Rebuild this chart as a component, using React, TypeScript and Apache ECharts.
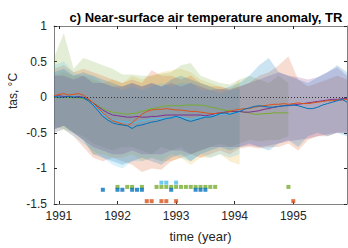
import React, { useEffect, useRef } from "react";
import * as echarts from "echarts";

// ---- data ----
const X_START = 1991 - 1 / 12; // first monthly sample (Dec 1990)
const X_END = 1996 - 1 / 12; // last monthly sample (Nov 1995)
const YEAR_TICKS = [1991, 1992, 1993, 1994, 1995];

const TITLE = "c) Near-surface air temperature anomaly, TR";
const Y_NAME = "tas, °C";
const X_NAME = "time (year)";

// monthly ensemble-mean anomalies (index i -> X_START + i/12)
const BLUE = [0.01, 0.0, 0.0, 0.01, 0.0, 0.0, -0.01, -0.05, -0.11, -0.19, -0.27, -0.32, -0.36, -0.38, -0.39, -0.4, -0.44, -0.4, -0.39, -0.37, -0.35, -0.34, -0.32, -0.3, -0.29, -0.27, -0.29, -0.32, -0.34, -0.32, -0.3, -0.28, -0.28, -0.26, -0.23, -0.22, -0.24, -0.22, -0.2, -0.17, -0.15, -0.13, -0.12, -0.13, -0.14, -0.14, -0.13, -0.12, -0.12, -0.11, -0.12, -0.14, -0.16, -0.16, -0.14, -0.11, -0.09, -0.07, -0.05, -0.03, -0.07];
const ORANGE = [0.02, 0.04, 0.05, 0.03, 0.04, 0.05, 0.03, -0.02, -0.08, -0.15, -0.22, -0.28, -0.33, -0.35, -0.38, -0.4, -0.36, -0.3, -0.24, -0.2, -0.18, -0.17, -0.17, -0.16, -0.17, -0.18, -0.18, -0.19, -0.2, -0.2, -0.21, -0.22, -0.23, -0.23, -0.22, -0.22, -0.2, -0.18, -0.17, -0.16, -0.16, -0.14, -0.13, -0.12, -0.11, -0.1, -0.1, -0.09, -0.1, -0.09, -0.08, -0.09, -0.09, -0.08, -0.07, -0.06, -0.05, -0.05, -0.04, -0.04, -0.03];
const PURPLE = [0.01, 0.02, 0.01, 0.01, 0.0, 0.01, 0.0, -0.03, -0.08, -0.13, -0.18, -0.22, -0.25, -0.26, -0.27, -0.28, -0.28, -0.27, -0.28, -0.28, -0.27, -0.27, -0.26, -0.25, -0.25, -0.25, -0.25, -0.25, -0.25, -0.25, -0.25, -0.26, -0.25, -0.23, -0.22, -0.21, -0.2, -0.2, -0.2, -0.21, -0.21, -0.2, -0.19, -0.17, -0.16, -0.14, -0.13, -0.12, -0.11, -0.11, -0.1, -0.09, -0.08, -0.07, -0.06, -0.05, -0.04, -0.03, -0.03, -0.02, -0.02];
const GREEN = [0.0, -0.01, 0.0, -0.01, -0.01, -0.01, -0.02, -0.04, -0.08, -0.12, -0.16, -0.19, -0.21, -0.22, -0.23, -0.24, -0.23, -0.22, -0.2, -0.18, -0.16, -0.15, -0.13, -0.12, -0.12, -0.12, -0.12, -0.11, -0.11, -0.11, -0.11, -0.12, -0.14, -0.15, -0.17, -0.18, -0.19, -0.2, -0.2, -0.21, -0.22, -0.24, -0.24, -0.23, -0.23, -0.22, -0.22, -0.22, -0.22];
const LIGHTBLUE = [0.0, 0.01, 0.0, 0.0, 0.01, 0.0, -0.01, -0.04, -0.1, -0.17, -0.24, -0.29, -0.32, -0.33, -0.34, -0.35, -0.36, -0.35, -0.33, -0.32, -0.31, -0.3, -0.3, -0.3, -0.29, -0.28, -0.28, -0.3, -0.31, -0.3, -0.28, -0.27, -0.26, -0.25, -0.24, -0.24, -0.23, -0.22, -0.21];

// ensemble spread bands, bimonthly (index k -> X_START + k/6)
const BLUE_UP = [0.35, 0.4, 0.3, 0.35, 0.3, 0.25, 0.2, 0.15, 0.2, 0.15, 0.2, 0.15, 0.25, 0.3, 0.25, 0.2, 0.15, 0.1, 0.15, 0.2, 0.3, 0.45, 0.55, 0.35, 0.3, 0.25, 0.2, 0.28, 0.35, 0.45, 0.35];
const BLUE_LO = [-0.45, -0.4, -0.5, -0.6, -0.8, -0.85, -0.9, -0.95, -0.9, -0.85, -0.9, -0.95, -0.85, -0.8, -0.9, -0.8, -0.75, -0.7, -0.75, -0.7, -0.65, -0.7, -0.75, -0.65, -0.6, -0.7, -0.55, -0.5, -0.55, -0.5, -0.55];
const ORANGE_UP = [0.4, 0.45, 0.35, 0.4, 0.35, 0.3, 0.25, 0.2, 0.25, 0.2, 0.38, 0.3, 0.3, 0.25, 0.3, 0.2, 0.15, 0.15, 0.12, 0.15, 0.2, 0.3, 0.35, 0.45, 0.57, 0.25, 0.15, 0.2, 0.25, 0.3, 0.25];
const ORANGE_LO = [-0.5, -0.45, -0.55, -0.7, -0.85, -0.9, -0.85, -0.9, -0.95, -1.05, -1.0, -1.02, -0.9, -0.85, -0.8, -0.85, -0.8, -0.75, -0.8, -0.72, -0.7, -0.72, -0.7, -0.7, -0.65, -0.75, -0.6, -0.55, -0.55, -0.5, -0.5];
const GREEN_UP = [0.55, 0.9, 0.4, 0.55, 0.5, 0.45, 0.4, 0.32, 0.32, 0.3, 0.3, 0.33, 0.35, 0.45, 0.48, 0.3, 0.25, 0.2, 0.18, 0.25, 0.3, 0.25, 0.2, 0.3, 0.2];
const GREEN_LO = [-0.4, -0.45, -0.5, -0.55, -0.65, -0.7, -0.75, -0.7, -0.7, -0.75, -0.8, -0.7, -0.75, -0.7, -0.8, -0.75, -0.7, -0.65, -0.7, -0.65, -0.6, -0.62, -0.6, -0.6, -0.55];
const LIGHTBLUE_UP = [0.45, 0.5, 0.35, 0.3, 0.3, 0.2, 0.15, 0.1, 0.15, 0.1, 0.15, 0.2, 0.15, 0.2, 0.2, 0.1, 0.1, 0.05, 0.1, 0.12];
const LIGHTBLUE_LO = [-0.5, -0.45, -0.55, -0.65, -0.75, -0.85, -0.95, -1.0, -0.9, -0.9, -0.85, -0.9, -0.8, -0.85, -0.9, -0.8, -0.85, -0.8, -0.85, -0.8];
const YELLOW_UP = [0.3, 0.35, 0.3, 0.3, 0.25, 0.2, 0.25, 0.2, 0.3, 0.25, 0.3, 0.35, 0.38, 0.4, 0.35, 0.25, 0.2, 0.15, 0.1, 0.25];
const YELLOW_LO = [-0.45, -0.4, -0.5, -0.6, -0.8, -0.8, -0.85, -0.85, -0.8, -0.9, -0.85, -0.9, -0.9, -0.85, -0.95, -0.85, -0.85, -0.8, -0.9, -0.95];
const PURPLE_UP = [0.3, 0.3, 0.25, 0.3, 0.2, 0.2, 0.15, 0.15, 0.2, 0.15, 0.2, 0.15, 0.2, 0.15, 0.2, 0.15, 0.1, 0.12, 0.1, 0.15, 0.2, 0.25, 0.3, 0.35, 0.3, 0.28, 0.25, 0.28, 0.35, 0.42, 0.3];
const PURPLE_LO = [-0.45, -0.4, -0.5, -0.6, -0.7, -0.75, -0.8, -0.8, -0.75, -0.8, -0.8, -0.8, -0.75, -0.75, -0.8, -0.75, -0.7, -0.7, -0.7, -0.7, -0.68, -0.7, -0.68, -0.65, -0.62, -0.6, -0.58, -0.55, -0.52, -0.5, -0.5];

// significance markers: month indices and row levels
const BLUE_SIG = [10, 13, 14, 16, 17, 18, 24, 29, 30, 31];
const LIGHTBLUE_SIG = [22, 23, 25];
const GREEN_SIG = [13, 15, 16, 18, 21, 22, 23, 24, 25, 26, 27, 28, 29, 30, 31, 32, 33, 48];
const ORANGE_SIG = [19, 20, 22, 23, 25, 49];
const SIG_LEVEL_LIGHTBLUE = -1.2;
const SIG_LEVEL_GREEN = -1.26;
const SIG_LEVEL_BLUE = -1.3;
const SIG_LEVEL_ORANGE = -1.46;

const C_BLUE = "#0072BD";
const C_ORANGE = "#D95319";
const C_YELLOW = "#EDB120";
const C_PURPLE = "#7E2F8E";
const C_GREEN = "#77AC30";
const C_LIGHTBLUE = "#4DBEEE";

const monthX = (i: number) => X_START + i / 12;
const bandX = (k: number) => X_START + k / 6;

const toLine = (arr: number[]) => arr.map((v, i) => [monthX(i), v]);
const toSig = (idx: number[], level: number) => idx.map((i) => [monthX(i), level]);

const BANDS = [
  { color: C_YELLOW, up: YELLOW_UP, lo: YELLOW_LO },
  { color: C_GREEN, up: GREEN_UP, lo: GREEN_LO },
  { color: C_ORANGE, up: ORANGE_UP, lo: ORANGE_LO },
  { color: C_LIGHTBLUE, up: LIGHTBLUE_UP, lo: LIGHTBLUE_LO },
  { color: C_PURPLE, up: PURPLE_UP, lo: PURPLE_LO },
  { color: C_BLUE, up: BLUE_UP, lo: BLUE_LO },
];

const hexA = (hex: string, a: number) => {
  const r = parseInt(hex.slice(1, 3), 16);
  const g = parseInt(hex.slice(3, 5), 16);
  const b = parseInt(hex.slice(5, 7), 16);
  return `rgba(${r},${g},${b},${a})`;
};

const FONT = "'Liberation Sans', Arial, Helvetica, sans-serif";

export default function App() {
  const ref = useRef<HTMLDivElement>(null);
  useEffect(() => {
    document.body.style.margin = "0";
    if (!ref.current) return;
    const chart = echarts.init(ref.current, undefined, { renderer: "svg" });
    const axisColor = "#808080";
    const tickStyle = { color: "#262626" };
    const option: any = {
      animation: false,
      textStyle: { fontFamily: FONT },
      title: {
        text: TITLE,
        left: 201,
        top: 6,
        textAlign: "center",
        textStyle: { fontFamily: FONT, fontSize: 13, fontWeight: "bold", color: "#000" },
      },
      grid: { left: 54, right: 1, top: 26, bottom: 44, containLabel: false },
      graphic: [
        {
          type: "text",
          x: 13,
          y: 91,
          rotation: Math.PI / 2,
          style: {
            text: Y_NAME,
            fontFamily: FONT,
            fontSize: 12,
            fill: "#262626",
            align: "center",
            verticalAlign: "middle",
          },
        },
      ],
      xAxis: [
        {
          type: "value",
          min: X_START,
          max: X_END,
          name: X_NAME,
          nameLocation: "middle",
          nameGap: 26,
          nameTextStyle: { fontFamily: FONT, fontSize: 13, color: "#262626" },
          axisLine: { show: true, onZero: false, lineStyle: { color: axisColor } },
          axisTick: { show: true, inside: true, length: 3, lineStyle: tickStyle, customValues: YEAR_TICKS },
          axisLabel: {
            show: true,
            margin: 6,
            fontFamily: FONT,
            fontSize: 12,
            color: "#262626",
            customValues: YEAR_TICKS,
            formatter: (v: number) => String(Math.round(v)),
          },
          splitLine: { show: false },
        },
        {
          type: "value",
          position: "top",
          min: X_START,
          max: X_END,
          axisLine: { show: true, onZero: false, lineStyle: { color: axisColor } },
          axisTick: { show: true, inside: true, length: 3, lineStyle: tickStyle, customValues: YEAR_TICKS },
          axisLabel: { show: false },
          splitLine: { show: false },
        },
      ],
      yAxis: [
        {
          type: "value",
          min: -1.5,
          max: 1,
          interval: 0.5,
          axisLine: { show: true, onZero: false, lineStyle: { color: axisColor } },
          axisTick: { show: true, inside: true, length: 3, lineStyle: tickStyle },
          axisLabel: { margin: 7, fontFamily: FONT, fontSize: 12, color: "#262626" },
          splitLine: { show: false },
        },
        {
          type: "value",
          position: "right",
          min: -1.5,
          max: 1,
          interval: 0.5,
          axisLine: { show: true, onZero: false, lineStyle: { color: axisColor } },
          axisTick: { show: true, inside: true, length: 3, lineStyle: tickStyle },
          axisLabel: { show: false },
          splitLine: { show: false },
        },
      ],
      series: [
        {
          type: "custom",
          clip: true,
          silent: true,
          z: 1,
          data: BANDS.map(() => [X_START, 0]),
          renderItem: (params: any, api: any) => {
            const b = BANDS[params.dataIndex];
            const top = b.up.map((v, k) => api.coord([bandX(k), v]));
            const bot = b.lo.map((v, k) => api.coord([bandX(k), v])).reverse();
            return {
              type: "polygon",
              shape: { points: top.concat(bot) },
              style: { fill: hexA(b.color, 0.2), stroke: "none" },
            };
          },
        },
        {
          type: "line",
          silent: true,
          z: 2,
          data: [],
          markLine: {
            silent: true,
            symbol: "none",
            label: { show: false },
            lineStyle: { color: "#333", type: [1, 2], width: 1 },
            data: [{ yAxis: 0 }],
          },
        },
        ...[
          { c: C_LIGHTBLUE, d: LIGHTBLUE },
          { c: C_GREEN, d: GREEN },
          { c: C_PURPLE, d: PURPLE },
          { c: C_ORANGE, d: ORANGE },
          { c: C_BLUE, d: BLUE },
        ].map((s) => ({
          type: "line",
          z: 3,
          silent: true,
          showSymbol: false,
          data: toLine(s.d),
          lineStyle: { color: s.c, width: 1 },
          itemStyle: { color: s.c },
        })),
        ...[
          { c: C_LIGHTBLUE, d: toSig(LIGHTBLUE_SIG, SIG_LEVEL_LIGHTBLUE) },
          { c: C_GREEN, d: toSig(GREEN_SIG, SIG_LEVEL_GREEN) },
          { c: C_BLUE, d: toSig(BLUE_SIG, SIG_LEVEL_BLUE) },
          { c: C_ORANGE, d: toSig(ORANGE_SIG, SIG_LEVEL_ORANGE) },
        ].map((s) => ({
          type: "scatter",
          z: 4,
          silent: true,
          symbol: "rect",
          symbolSize: 4,
          data: s.d,
          itemStyle: { color: s.c },
        })),
      ],
    };
    chart.setOption(option);
    return () => chart.dispose();
  }, []);
  return <div ref={ref} style={{ width: 348, height: 248 }} />;
}
